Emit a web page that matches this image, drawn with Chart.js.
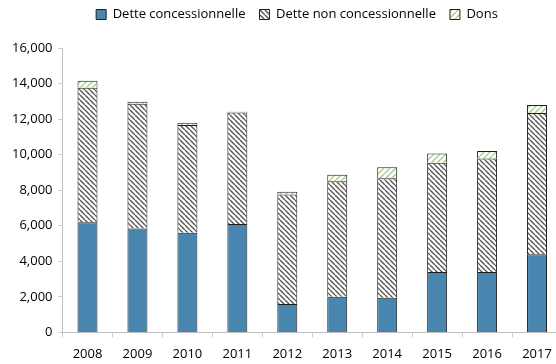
<!DOCTYPE html>
<html>
<head>
<meta charset="utf-8">
<script src="https://cdn.jsdelivr.net/npm/chart.js@4.4.1/dist/chart.umd.min.js"></script>
<style>
  html, body { margin: 0; padding: 0; background: #fff; overflow: hidden; }
  #wrap { width: 562px; height: 364px; }
</style>
</head>
<body>
<div id="wrap"><canvas id="chart" width="562" height="364"></canvas></div>
<script>
const years = ["2008", "2009", "2010", "2011", "2012", "2013", "2014", "2015", "2016", "2017"]
const detteConcessionnelle = [6200, 5850, 5600, 6100, 1600, 2000, 1950, 3400, 3400, 4400]
const detteNonConcessionnelle = [7570, 7010, 6070, 6270, 6160, 6500, 6720, 6150, 6380, 7950]
const dons = [390, 110, 130, 50, 150, 370, 620, 510, 430, 440]
const yTicks = [0, 2000, 4000, 6000, 8000, 10000, 12000, 14000, 16000]

// diagonal hatch fill on white
function hatch(color, size, lineWidth, backslash) {
  const c = document.createElement("canvas")
  c.width = size
  c.height = size
  const g = c.getContext("2d")
  g.fillStyle = "#fff"
  g.fillRect(0, 0, size, size)
  g.strokeStyle = color
  g.lineWidth = lineWidth
  g.beginPath()
  for (let k = -1; k <= 1; k++) {
    if (backslash) {
      g.moveTo(k * size, 0)
      g.lineTo(k * size + size, size)
    } else {
      g.moveTo(k * size, size)
      g.lineTo(k * size + size, 0)
    }
  }
  g.stroke()
  return g.createPattern(c, "repeat")
}

// extra room under the legend, and nudge it right over the bars
const legendTweak = {
  id: "legendTweak",
  beforeLayout(chart) {
    const legend = chart.legend
    if (legend && !legend._gap) {
      const fit = legend.fit
      legend.fit = function () {
        fit.call(this)
        this.height += 17
      }
      legend._gap = true
    }
  },
  afterLayout(chart) {
    chart.legend.left += 13
    chart.legend.right += 13
  }
}

const font = { family: "'Open Sans', 'Noto Sans', sans-serif", size: 13 }

new Chart(document.getElementById("chart"), {
  type: "bar",
  data: {
    labels: years,
    datasets: [
      {
        label: "Dette concessionnelle",
        data: detteConcessionnelle,
        backgroundColor: "#4886B0",
        borderColor: "#1f1f1f",
        borderWidth: 1,
      },
      {
        label: "Dette non concessionnelle",
        data: detteNonConcessionnelle,
        backgroundColor: hatch("#555", 5, 1.4, true),
        borderColor: "#1f1f1f",
        borderWidth: 1,
      },
      {
        label: "Dons",
        data: dons,
        backgroundColor: hatch("#a9cf8c", 6, 1.5, false),
        borderColor: "#1f1f1f",
        borderWidth: 1,
      }
    ]
  },
  plugins: [legendTweak],
  options: {
    responsive: false,
    animation: false,
    categoryPercentage: 0.8,
    barPercentage: 0.5,
    layout: { padding: { left: 6, right: 0, top: -6, bottom: -7 } },
    plugins: {
      legend: {
        position: "top",
        labels: {
          font,
          color: "#000",
          boxWidth: 10,
          boxHeight: 10,
          padding: 14,
        }
      },
      tooltip: { enabled: false }
    },
    scales: {
      x: {
        stacked: true,
        ticks: { font, color: "#000", padding: 9 },
        grid: {
          offset: true,
          drawOnChartArea: false,
          tickLength: 5,
          color: "#c8c8c8",
        },
        border: { color: "#bfbfbf" }
      },
      y: {
        stacked: true,
        min: 0,
        max: 16000,
        afterBuildTicks: axis => {
          axis.ticks = yTicks.map(v => ({ value: v }))
        },
        ticks: {
          font,
          color: "#000",
          padding: 6,
          callback: v => v.toLocaleString("en-US")
        },
        grid: {
          drawOnChartArea: false,
          tickLength: 4,
          color: "#c8c8c8",
        },
        border: { color: "#bfbfbf" }
      }
    }
  }
})
</script>
</body>
</html>
